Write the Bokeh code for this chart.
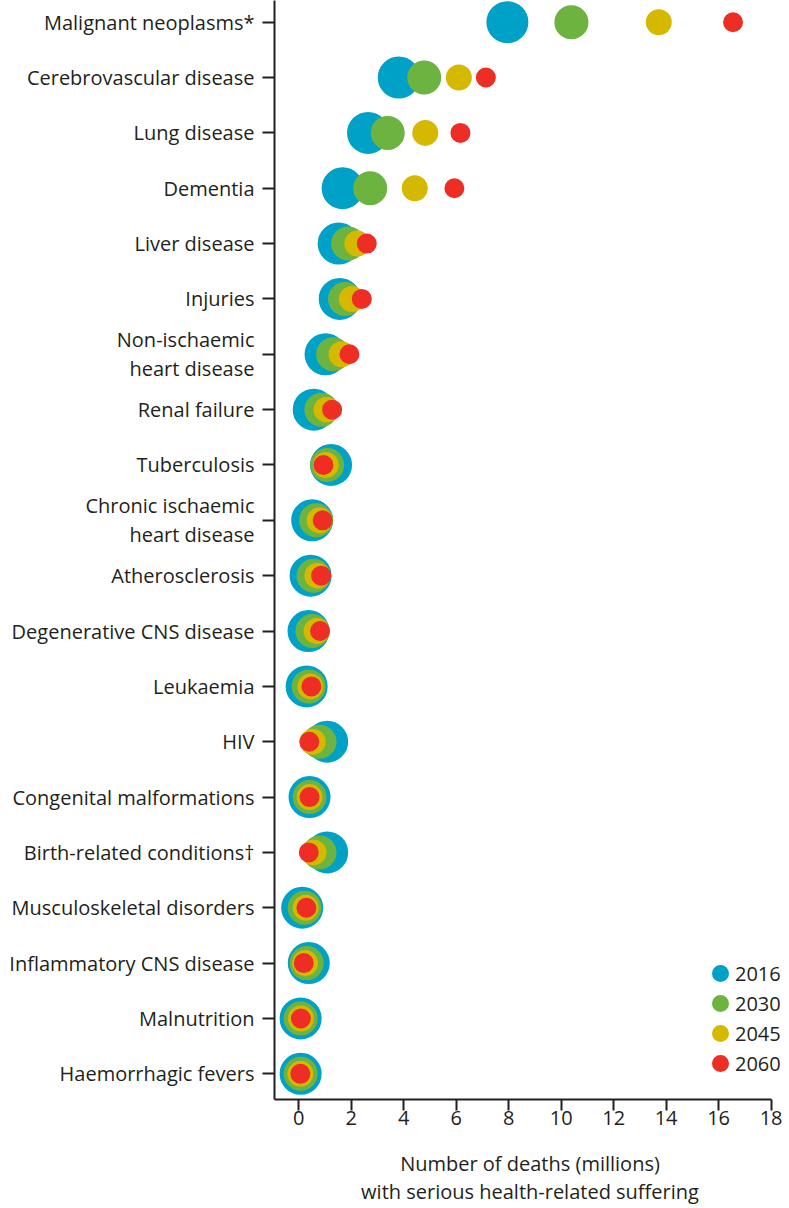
from bokeh.plotting import figure
from bokeh.models import Range1d, FixedTicker, Legend, LegendItem, ColumnDataSource
from bokeh.embed import file_html
from bokeh.resources import INLINE

categories = ["Malignant neoplasms*", "Cerebrovascular disease", "Lung disease", "Dementia",
              "Liver disease", "Injuries", "Non-ischaemic\nheart disease", "Renal failure",
              "Tuberculosis", "Chronic ischaemic\nheart disease", "Atherosclerosis",
              "Degenerative CNS disease", "Leukaemia", "HIV", "Congenital malformations",
              "Birth-related conditions\u2020", "Musculoskeletal disorders",
              "Inflammatory CNS disease", "Malnutrition", "Haemorrhagic fevers"]

years = ["2016", "2030", "2045", "2060"]
v2016 = [7.95, 3.81, 2.64, 1.67, 1.52, 1.56, 1.02, 0.57, 1.23, 0.51, 0.45, 0.37, 0.30, 1.08, 0.41, 1.08, 0.13, 0.38, 0.07, 0.07]
v2030 = [10.39, 4.78, 3.39, 2.72, 1.88, 1.76, 1.31, 0.86, 1.08, 0.66, 0.56, 0.52, 0.38, 0.79, 0.41, 0.79, 0.22, 0.30, 0.07, 0.07]
v2045 = [13.72, 6.10, 4.82, 4.42, 2.23, 2.02, 1.63, 1.06, 1.03, 0.79, 0.71, 0.68, 0.44, 0.53, 0.41, 0.56, 0.26, 0.24, 0.08, 0.06]
v2060 = [16.55, 7.13, 6.16, 5.93, 2.59, 2.40, 1.93, 1.27, 0.94, 0.91, 0.85, 0.81, 0.48, 0.40, 0.41, 0.38, 0.29, 0.19, 0.08, 0.06]
x_ticks = [0, 2, 4, 6, 8, 10, 12, 14, 16, 18]

series = [v2016, v2030, v2045, v2060]
colors = ["#00a1c7", "#6cb33f", "#d5b900", "#ee2e24"]
sizes = [42, 34, 26, 20]
RING = 5  # outline width (same colour) so legend markers come out larger

FONT = "Open Sans"
TXT = "#231f20"
FS = "20px"

rows = list(range(len(categories)))

p = figure(width=789, height=1208, output_backend="svg", toolbar_location=None,
           x_range=Range1d(-0.926, 18.55), y_range=Range1d(19.464, -0.392),
           min_border_left=274, min_border_right=4, min_border_top=0, min_border_bottom=109)
p.outline_line_color = None
p.xgrid.visible = False
p.ygrid.visible = False
p.background_fill_color = "white"

renderers = []
for vals, col, sz in zip(series, colors, sizes):
    src = ColumnDataSource(dict(x=vals, y=rows))
    r = p.scatter("x", "y", source=src, size=sz - RING, fill_color=col,
                  line_color=col, line_width=RING)
    renderers.append(r)

# y axis
ya = p.yaxis[0]
ya.ticker = FixedTicker(ticks=rows)
ya.major_label_overrides = {i: c for i, c in zip(rows, categories)}
ya.minor_tick_line_color = None
ya.major_tick_in = 0
ya.major_tick_out = 12
ya.major_tick_line_width = 2
ya.axis_line_width = 2
ya.axis_line_color = TXT
ya.major_tick_line_color = TXT
ya.major_label_standoff = 8
ya.major_label_text_font = FONT
ya.major_label_text_font_size = "20px"
ya.major_label_text_color = TXT
ya.major_label_text_line_height = 1.08

# x axis
xa = p.xaxis[0]
xa.ticker = FixedTicker(ticks=x_ticks)
xa.bounds = (-0.926, 18)
xa.minor_tick_line_color = None
xa.major_tick_in = 0
xa.major_tick_out = 11
xa.major_tick_line_width = 2
xa.axis_line_width = 2
xa.axis_line_color = TXT
xa.major_tick_line_color = TXT
xa.major_label_standoff = 0
xa.major_label_text_font = FONT
xa.major_label_text_font_size = FS
xa.major_label_text_color = TXT
xa.axis_label = "Number of deaths (millions)\nwith serious health-related suffering"
xa.axis_label_text_font = FONT
xa.axis_label_text_font_size = FS
xa.axis_label_text_font_style = "normal"
xa.axis_label_text_color = TXT
xa.axis_label_text_line_height = 1.05
xa.axis_label_standoff = 22

legend = Legend(items=[LegendItem(label=y, renderers=[r]) for y, r in zip(years, renderers)],
                location=(431, 21), glyph_width=30, glyph_height=30, label_height=30,
                spacing=0, label_standoff=0, padding=0, margin=0,
                border_line_color=None, background_fill_alpha=0,
                label_text_font=FONT, label_text_font_size=FS, label_text_color=TXT)
p.add_layout(legend)

open("out.html", "w").write(file_html(p, INLINE))
